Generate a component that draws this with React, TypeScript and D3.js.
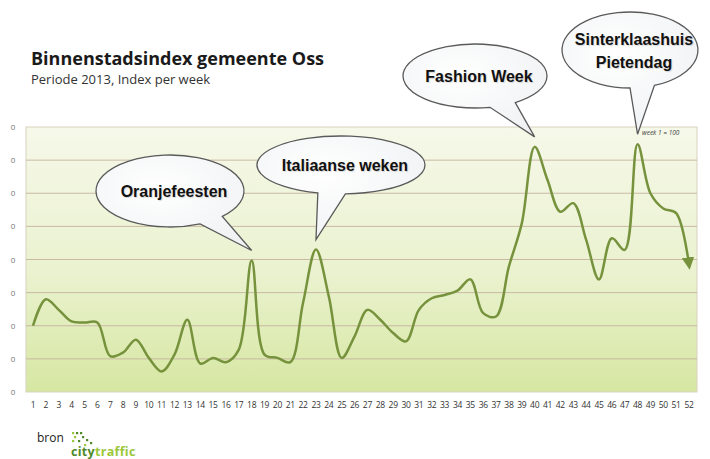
import React from "react";
import * as d3 from "d3";

// weekly index, week 1 = 100
const weeks = d3.range(1, 53);
const indexValues = [
  100, 108, 104.8, 101.3, 101, 101, 90.8, 91.9, 95.8, 90.3,
  86.2, 91.3, 101.8, 88.6, 90.3, 89, 92.8, 119.7, 91.3, 90.3,
  89, 107, 123, 108.8, 90.3, 96.8, 104.8, 101.8, 97.8, 95.3,
  104.8, 108.3, 109.3, 110.6, 114, 103.8, 102.8, 117.9, 130.9, 154,
  144, 134.4, 137, 126, 114, 126.4, 122.9, 154.8, 140, 135.4,
  134, 118.4,
];
const yTicks = [80, 90, 100, 110, 120, 130, 140, 150, 160];
const yTickLabels = ["0", "0", "0", "0", "0", "0", "0", "0", "0"];

const callouts = [
  { lines: ["Oranjefeesten"], week: 18, cx: 170, cy: 191, rx: 74, ry: 36, a1: 45, a2: 66 },
  { lines: ["Italiaanse weken"], week: 23, cx: 341, cy: 165, rx: 84, ry: 29, a1: 87, a2: 106 },
  { lines: ["Fashion Week"], week: 40, cx: 475, cy: 76, rx: 72, ry: 32, a1: 56, a2: 78 },
  { lines: ["Sinterklaashuis", "Pietendag"], week: 48, cx: 630, cy: 50, rx: 68, ry: 38, a1: 69, a2: 90 },
];

const W = 710;
const H = 459;
const plot = { left: 26, right: 697, top: 127, bottom: 392 };

export default function App() {
  const x = d3
    .scaleLinear()
    .domain([1, 52])
    .range([33, 689]);
  const y = d3
    .scaleLinear()
    .domain([80, 160])
    .range([plot.bottom, plot.top]);

  const line = d3
    .line<number>()
    .x((d, i) => x(weeks[i]))
    .y((d) => y(d))
    .curve(d3.curveCatmullRom.alpha(0.5));

  const bubblePath = (c: typeof callouts[0], tipX: number, tipY: number) => {
    const rad = (a: number) => (a * Math.PI) / 180;
    const p = (a: number) => [c.cx + c.rx * Math.cos(rad(a)), c.cy + c.ry * Math.sin(rad(a))];
    const [ax, ay] = p(c.a1);
    const [bx, by] = p(c.a2);
    return `M${bx},${by} A${c.rx},${c.ry} 0 1 1 ${ax},${ay} L${tipX},${tipY} Z`;
  };

  return (
    <svg
      width={W}
      height={H}
      style={{ position: "absolute", left: 0, top: 0, background: "#fff" }}
      fontFamily="'Open Sans', sans-serif"
    >
      <defs>
        <linearGradient id="bg" x1="0" y1="0" x2="0" y2="1">
          <stop offset="0%" stopColor="#f6f8e9" />
          <stop offset="55%" stopColor="#eaf2cf" />
          <stop offset="100%" stopColor="#d6e7a2" />
        </linearGradient>
        <radialGradient id="bubble" cx="0.4" cy="0.35" r="0.8">
          <stop offset="0%" stopColor="#ffffff" />
          <stop offset="100%" stopColor="#eef0f2" />
        </radialGradient>
        <marker id="arrow" viewBox="0 0 10 10" refX="6" refY="5" markerWidth="5" markerHeight="5" orient="auto">
          <path d="M0,0 L10,5 L0,10 Z" fill="#76923c" />
        </marker>
      </defs>

      {/* title */}
      <text x={31} y={65} fontSize={18} fontWeight="bold" fill="#1a1a1a">
        Binnenstadsindex gemeente Oss
      </text>
      <text x={31} y={84} fontSize={13} fill="#333">
        Periode 2013, Index per week
      </text>

      {/* plot area */}
      <rect
        x={plot.left}
        y={plot.top}
        width={plot.right - plot.left}
        height={plot.bottom - plot.top}
        fill="url(#bg)"
        stroke="#d8d2c0"
      />
      {yTicks.map((t, i) => (
        <g key={t}>
          {i > 0 && i < yTicks.length - 1 && (
            <line x1={plot.left} x2={plot.right} y1={y(t)} y2={y(t)} stroke="#c9b9a3" strokeWidth={1} />
          )}
          <text x={13} y={y(t) + 3} fontSize={8} fill="#777" textAnchor="middle">
            {yTickLabels[i]}
          </text>
        </g>
      ))}
      {weeks.map((w) => (
        <text key={w} x={x(w)} y={408} fontSize={8.5} fill="#333" textAnchor="middle" letterSpacing={-0.3}>
          {w}
        </text>
      ))}

      {/* index line */}
      <path
        d={line(indexValues) || ""}
        fill="none"
        stroke="#76923c"
        strokeWidth={2.5}
        strokeLinejoin="round"
        markerEnd="url(#arrow)"
      />
      <text x={642} y={135} fontSize={6.5} fontStyle="italic" fill="#444">
        week 1 = 100
      </text>

      {/* callouts */}
      {callouts.map((c) => {
        const tx = x(c.week);
        const ty = y(indexValues[c.week - 1]) - 10;
        return (
          <g key={c.lines[0]}>
            <path d={bubblePath(c, tx, ty)} fill="url(#bubble)" stroke="#5a5a5a" strokeWidth={1.3} />
            {c.lines.map((l, i) => (
              <text
                key={l}
                x={c.cx + 4}
                y={c.cy + 6 + (i - (c.lines.length - 1) / 2) * 23}
                fontSize={16}
                fontWeight="bold"
                fontFamily="'Liberation Sans', Arial, sans-serif"
                fill="#111"
                textAnchor="middle"
                style={{ textShadow: "1px 1px 1px rgba(0,0,0,0.15)" }}
              >
                {l}
              </text>
            ))}
          </g>
        );
      })}

      {/* source */}
      <text x={37} y={442} fontSize={12} fill="#222">
        bron
      </text>
      {[
        [72, 432], [76, 432], [80, 432], [74, 436], [82, 436], [86, 439], [72, 440], [78, 440], [90, 442], [84, 444],
      ].map(([dx, dy], i) => (
        <rect key={i} x={dx} y={dy} width={2.2} height={2.2} fill={i % 3 === 0 ? "#9cc83c" : "#4f8a2a"} />
      ))}
      <text x={71} y={456} fontSize={12.5} fontWeight="bold" letterSpacing={0.3}>
        <tspan fill="#4f8a2a">city</tspan>
        <tspan fill="#9cc83c">traffic</tspan>
      </text>
    </svg>
  );
}
